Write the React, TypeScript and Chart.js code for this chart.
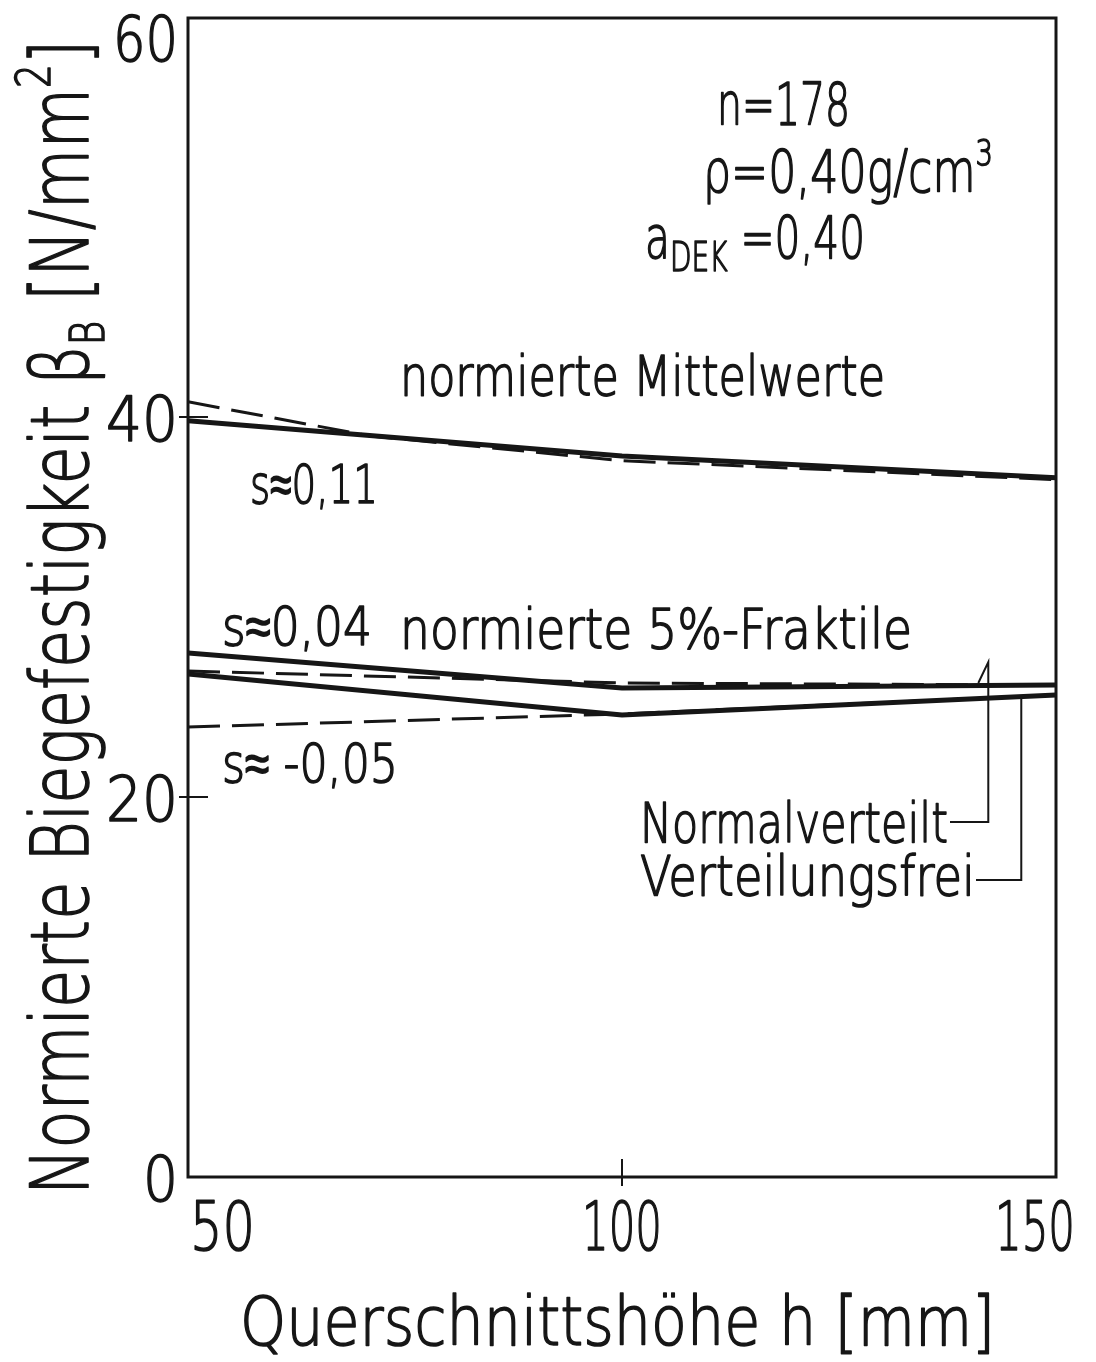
import { useEffect, useRef } from "react";
import { Chart, registerables } from "chart.js";

Chart.register(...registerables);

const W = 1096;
const H = 1362;

// Querschnittshöhe h [mm]
const hValues = [50, 100, 150];
const hValuesMeanDashed = [50, 71, 100, 150];

// normierte Mittelwerte
const meanSolid = [39.8, 37.95, 36.8];
const meanDashed = [40.8, 39.0, 37.7, 36.7];

// normierte 5%-Fraktile
const fracNormalSolid = [27.58, 25.74, 25.89];
const fracNormalDashed = [26.63, 26.0, 25.89];
const fracFreeSolid = [26.47, 24.32, 25.37];
const fracFreeDashed = [23.68, 24.37, 25.37];

// axis ticks
const xTicks = [50, 100, 150];
const yTicks = [0, 20, 40, 60];

const INK = "#161616";
const FONT = '"DejaVu Sans", sans-serif';
const WEIGHT = 200;
const TEXT_STROKE = 1.6;

type Seg = { t: string; s: number; dy?: number };

function font(size: number) {
  return `${WEIGHT} ${size}px ${FONT}`;
}

// Draws a run of text segments squeezed horizontally to the given width.
function rich(
  ctx: CanvasRenderingContext2D,
  segs: Seg[],
  x: number,
  y: number,
  width: number,
  align: "left" | "center" | "right" = "left"
) {
  let total = 0;
  const ws = segs.map((g) => {
    ctx.font = font(g.s);
    const w = ctx.measureText(g.t).width;
    total += w;
    return w;
  });
  const sx = width / total;
  const x0 = align === "left" ? x : align === "center" ? x - width / 2 : x - width;
  ctx.save();
  ctx.translate(x0, y);
  ctx.scale(sx, 1);
  ctx.textAlign = "left";
  ctx.textBaseline = "alphabetic";
  ctx.fillStyle = INK;
  ctx.strokeStyle = INK;
  ctx.lineWidth = TEXT_STROKE;
  ctx.lineJoin = "round";
  let cx = 0;
  segs.forEach((g, i) => {
    ctx.font = font(g.s);
    ctx.fillText(g.t, cx, g.dy || 0);
    ctx.strokeText(g.t, cx, g.dy || 0);
    cx += ws[i];
  });
  ctx.restore();
}

function line(ctx: CanvasRenderingContext2D, pts: number[][], lw: number) {
  ctx.save();
  ctx.strokeStyle = INK;
  ctx.lineWidth = lw;
  ctx.lineCap = "butt";
  ctx.lineJoin = "miter";
  ctx.beginPath();
  pts.forEach(([px, py], i) => (i === 0 ? ctx.moveTo(px, py) : ctx.lineTo(px, py)));
  ctx.stroke();
  ctx.restore();
}

const toPoints = (xs: number[], ys: number[]) => xs.map((x, i) => ({ x, y: ys[i] }));

const decorations = {
  id: "decorations",
  beforeDraw(chart: any) {
    const ctx = chart.ctx as CanvasRenderingContext2D;
    ctx.save();
    ctx.fillStyle = "#ffffff";
    ctx.fillRect(0, 0, chart.width, chart.height);
    ctx.restore();
  },
  afterDraw(chart: any) {
    const ctx = chart.ctx as CanvasRenderingContext2D;
    const { left, right, top, bottom } = chart.chartArea;
    const xs = chart.scales.x;
    const ys = chart.scales.y;
    const X = (v: number) => xs.getPixelForValue(v);
    const Y = (v: number) => ys.getPixelForValue(v);

    // frame
    ctx.save();
    ctx.strokeStyle = INK;
    ctx.lineWidth = 3;
    ctx.strokeRect(left, top, right - left, bottom - top);
    ctx.restore();

    // tick marks
    [20, 40].forEach((v) => line(ctx, [[left - 9, Y(v)], [left + 20, Y(v)]], 2));
    line(ctx, [[X(100), bottom - 18], [X(100), bottom + 9]], 2);

    // y tick labels
    const yWidths: Record<number, number> = { 0: 35, 20: 72, 40: 72, 60: 65 };
    yTicks.forEach((v) => {
      rich(ctx, [{ t: String(v), s: 62 }], left - 10, Y(v) + 24, yWidths[v], "right");
    });

    // x tick labels
    xTicks.forEach((v, i) => {
      const t = String(v);
      const w = t.length === 2 ? 65 : 80;
      if (i === 0) rich(ctx, [{ t, s: 68 }], X(v) + 2, bottom + 73, w, "left");
      else if (i === xTicks.length - 1) rich(ctx, [{ t, s: 68 }], X(v) + 19, bottom + 73, w, "right");
      else rich(ctx, [{ t, s: 68 }], X(v), bottom + 73, w, "center");
    });

    // axis titles
    rich(ctx, [{ t: "Querschnittshöhe h [mm]", s: 68 }], 240, 1345, 755, "left");
    ctx.save();
    ctx.translate(88, 1195);
    ctx.rotate(-Math.PI / 2);
    rich(
      ctx,
      [
        { t: "Normierte Biegefestigkeit ", s: 80 },
        { t: "β", s: 80 },
        { t: "B", s: 48, dy: 16 },
        { t: " [N/mm", s: 80 },
        { t: "2", s: 48, dy: -38 },
        { t: "]", s: 80 },
      ],
      0,
      0,
      1155,
      "left"
    );
    ctx.restore();

    // parameters
    rich(ctx, [{ t: "n=178", s: 58 }], 717, 125, 133, "left");
    rich(ctx, [{ t: "ρ=0,40g/cm", s: 58 }, { t: "3", s: 36, dy: -27 }], 703, 192, 290, "left");
    rich(ctx, [{ t: "a", s: 58 }, { t: "DEK", s: 40, dy: 13 }, { t: " =0,40", s: 58 }], 645, 258, 220, "left");

    // curve labels
    rich(ctx, [{ t: "normierte Mittelwerte", s: 55 }], 400, 395, 485, "left");
    rich(ctx, [{ t: "s≈0,11", s: 54 }], 250, 503, 128, "left");
    rich(ctx, [{ t: "s≈0,04", s: 54 }], 222, 645, 150, "left");
    rich(ctx, [{ t: "normierte 5%-Fraktile", s: 55 }], 400, 648, 512, "left");
    rich(ctx, [{ t: "s≈ -0,05", s: 54 }], 222, 782, 176, "left");
    rich(ctx, [{ t: "Normalverteilt", s: 56 }], 640, 842, 308, "left");
    rich(ctx, [{ t: "Verteilungsfrei", s: 56 }], 640, 895, 335, "left");

    // leader lines
    const hN = 142.2;
    const hF = 146;
    line(ctx, [[950, 822], [X(hN), 822], [X(hN), Y(27.1)], [X(hN) - 10, Y(26.0)]], 2);
    line(ctx, [[976, 880], [X(hF), 880], [X(hF), Y(25.3)]], 2);
  },
};

export default function App() {
  const ref = useRef<HTMLCanvasElement>(null);

  useEffect(() => {
    const canvas = ref.current;
    if (!canvas) return;
    const solid = { borderColor: INK, borderWidth: 5, pointRadius: 0, tension: 0, fill: false };
    const dashed = { borderColor: INK, borderWidth: 3, borderDash: [32, 12], pointRadius: 0, tension: 0, fill: false };
    const chart = new Chart(canvas, {
      type: "line",
      data: {
        datasets: [
          { ...solid, label: "Mittelwerte", data: toPoints(hValues, meanSolid) },
          { ...dashed, label: "Mittelwerte (Verteilung)", data: toPoints(hValuesMeanDashed, meanDashed) },
          { ...solid, label: "5%-Fraktile normalverteilt", data: toPoints(hValues, fracNormalSolid) },
          { ...dashed, label: "5%-Fraktile normalverteilt (Verteilung)", data: toPoints(hValues, fracNormalDashed) },
          { ...solid, label: "5%-Fraktile verteilungsfrei", data: toPoints(hValues, fracFreeSolid) },
          { ...dashed, label: "5%-Fraktile verteilungsfrei (Verteilung)", data: toPoints(hValues, fracFreeDashed) },
        ] as any,
      },
      options: {
        responsive: false,
        animation: false,
        devicePixelRatio: 1,
        layout: { padding: { left: 188, top: 18, right: 40, bottom: 185 } },
        scales: {
          x: { type: "linear", min: 50, max: 150, display: false },
          y: { type: "linear", min: 0, max: 61, display: false },
        },
        plugins: { legend: { display: false }, tooltip: { enabled: false } },
      },
      plugins: [decorations],
    });
    return () => chart.destroy();
  }, []);

  return (
    <div style={{ position: "absolute", left: 0, top: 0, width: W, height: H, background: "#fff" }}>
      <canvas ref={ref} width={W} height={H} style={{ display: "block", width: W, height: H }} />
    </div>
  );
}
